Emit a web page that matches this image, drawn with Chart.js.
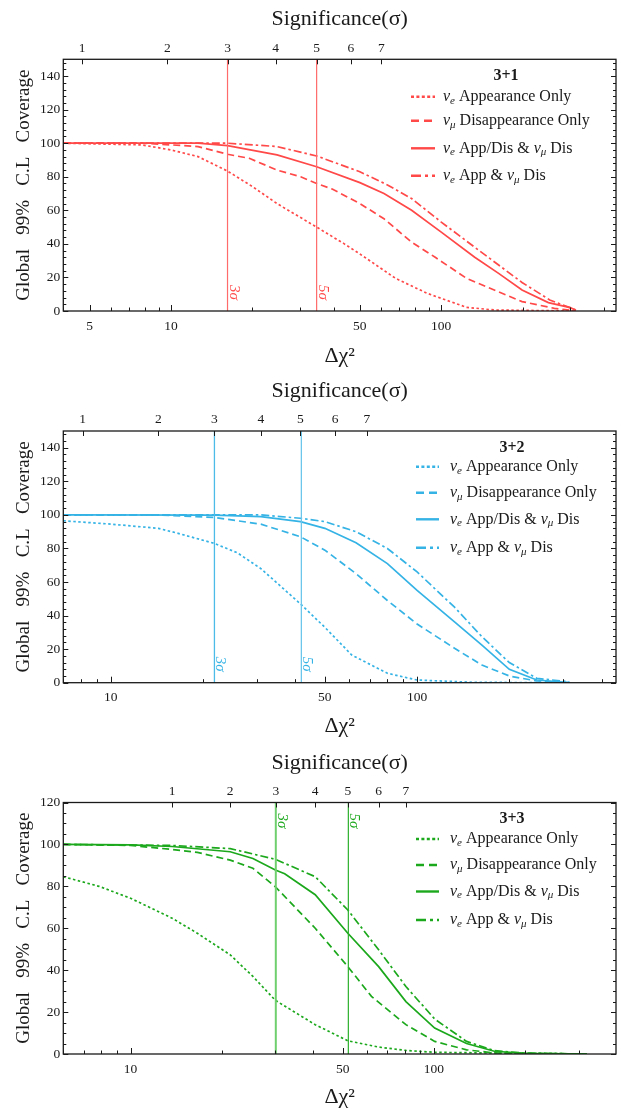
<!DOCTYPE html>
<html>
<head>
<meta charset="utf-8">
<script src="https://cdn.jsdelivr.net/npm/chart.js@4.4.1/dist/chart.umd.min.js"></script>
<style>
  body { margin: 0; background: #fff; }
  .panel { position: absolute; left: 0; width: 620px; }
  canvas { display: block; }
</style>
</head>
<body>
<div class="panel" style="top:0"><canvas id="c1" width="620" height="370"></canvas></div>
<div class="panel" style="top:370px"><canvas id="c2" width="620" height="370"></canvas></div>
<div class="panel" style="top:740px"><canvas id="c3" width="620" height="371"></canvas></div>
<script>
// Global 99% C.L coverage vs delta chi^2, for the 3+1, 3+2 and 3+3 models.
// Curve order everywhere: nu_e appearance only, nu_mu disappearance only,
// nu_e app/dis & nu_mu dis, nu_e app & nu_mu dis.

const sigmaLabels = [1, 2, 3, 4, 5, 6, 7];
const sigmaLineText = ['3σ', '5σ'];
const modelNames = ['3+1', '3+2', '3+3'];
const legendLabels = [
  [['ν', 'i'], ['e', 's'], [' Appearance Only', 'n']],
  [['ν', 'i'], ['μ', 's'], [' Disappearance Only', 'n']],
  [['ν', 'i'], ['e', 's'], [' App/Dis & ', 'n'], ['ν', 'i'], ['μ', 's'], [' Dis', 'n']],
  [['ν', 'i'], ['e', 's'], [' App & ', 'n'], ['ν', 'i'], ['μ', 's'], [' Dis', 'n']],
];

// ---- 3+1 ----
const p1Range = [4, 443];
const p1SigmaChi2 = [4.7, 9.7, 16.2, 24.4, 34.6, 46.3, 60];
const p1SigmaLines = [16.2, 34.6];
const p1XLabels = [5, 10, 50, 100];
const p1YTicks = [0, 20, 40, 60, 80, 100, 120, 140];
const p1AppX = [4, 7.8, 10, 12.6, 16.2, 20.1, 24.7, 34.6, 43.8, 50, 67.7, 88.8, 124, 157, 315];
const p1AppY = [100, 99, 96, 92, 83.4, 74, 64, 50, 40, 34, 19.5, 10.5, 2.2, 0.6, 0];
const p1DisX = [4, 7.8, 10, 12.6, 16.2, 19.5, 24.7, 30.2, 34.6, 39.5, 50, 61.4, 77.7, 95, 124, 157, 199, 262, 315];
const p1DisY = [100, 100, 99, 98, 93.4, 91, 84, 80, 76, 72.7, 64, 55, 41, 32, 19.5, 12.5, 5.6, 1.6, 0];
const p1AppDisX = [4, 12.6, 16.2, 24.7, 34.6, 50, 61.4, 77.7, 100, 133, 163, 199, 249, 300, 315];
const p1AppDisY = [100, 100, 98.5, 93, 86, 76.5, 70, 60, 47, 32, 22.4, 12.5, 5, 2, 0.5];
const p1AppAndDisX = [4, 16.2, 20.1, 24.7, 34.6, 50, 63.5, 77.7, 100, 133, 163, 199, 252, 315];
const p1AppAndDisY = [100, 100, 99, 98, 92.4, 83, 75, 67, 53, 38, 27.4, 17, 6.6, 0.6];

// ---- 3+2 ----
const p2Range = [7, 446];
const p2SigmaChi2 = [8.1, 14.3, 21.8, 30.9, 41.6, 54.0, 68.6];
const p2SigmaLines = [21.8, 41.9];
const p2XLabels = [10, 50, 100];
const p2YTicks = [0, 20, 40, 60, 80, 100, 120, 140];
const p2AppX = [7, 10, 14.3, 16.6, 21.8, 25.9, 30.9, 41.6, 50, 61.2, 80, 100, 154, 314];
const p2AppY = [96.5, 94.5, 92, 89, 83, 77.4, 68, 47, 33, 16.5, 5.6, 1.6, 0.2, 0];
const p2DisX = [7, 14.3, 21.8, 30.9, 41.6, 50, 63.2, 80, 100, 132.5, 162.8, 200, 246, 314];
const p2DisY = [100, 100, 98.5, 94.5, 87, 79, 65, 49, 35, 20.5, 10.5, 4, 1, 0];
const p2AppDisX = [7, 21.8, 30.9, 41.6, 50, 63.2, 80, 100, 132.5, 162.8, 200, 246, 314];
const p2AppDisY = [100, 99.9, 99, 96, 92, 83.4, 71, 55, 36.3, 22.4, 8, 1.6, 0];
const p2AppAndDisX = [7, 30.9, 41.6, 50, 63.2, 80, 100, 132.5, 162.8, 200, 246, 314];
const p2AppAndDisY = [100, 100, 98, 96, 90, 80, 66, 45, 27.4, 12, 2.6, 0.5];

// ---- 3+3 ----
const p3Range = [6, 398];
const p3SigmaChi2 = [13.7, 21.3, 30.1, 40.6, 52.0, 65.7, 80.8];
const p3SigmaLines = [30.1, 52.2];
const p3XLabels = [10, 50, 100];
const p3YTicks = [0, 20, 40, 60, 80, 100, 120];
const p3AppX = [6, 7.87, 10, 13.7, 16.6, 21.3, 25.3, 30, 40.6, 52, 65.7, 80.8, 100.5, 319];
const p3AppY = [84.6, 80, 74.3, 64.8, 57.6, 47.3, 37, 25.6, 14, 6.3, 3.3, 1.7, 0.8, 0];
const p3DisX = [6, 10, 13.7, 16.6, 21.3, 25.3, 30, 40.6, 52, 62.2, 80.8, 100.5, 128, 158, 319];
const p3DisY = [100, 99.5, 97.6, 96.2, 92.5, 88.6, 79.8, 60, 41.7, 27.5, 14, 6, 2, 0.5, 0];
const p3AppDisX = [6, 10, 13.7, 21.3, 25.3, 30, 32.2, 40.6, 52, 65.7, 80.8, 100.5, 128, 158, 200, 319];
const p3AppDisY = [100, 99.8, 99, 96.5, 93.3, 87.8, 86, 76, 57.6, 41.7, 25, 12.4, 5, 1.3, 0.3, 0];
const p3AppAndDisX = [6, 13.7, 21.3, 30, 40.6, 52, 65.7, 80.8, 100.5, 128, 158, 200, 319];
const p3AppAndDisY = [100, 99.5, 98, 92.9, 84.6, 68.7, 49.7, 32.2, 16.7, 6, 1.6, 0.4, 0];

const FONT = '"Liberation Serif", "DejaVu Serif", serif';
const INK = '#1a1a1a';
const DASHES = [[2.5, 2.5], [7, 4], [], [8, 3, 2.5, 3]];
const LEGEND_DASHES = [[3, 2.4], [8, 5], [], [10, 4, 3, 4]];

// all 1..9 x 10^n values inside the range (minor + major ticks)
function logTicks(min, max) {
  const out = [];
  for (let d = 1; d <= 1000; d *= 10) {
    for (let m = 1; m <= 9; m++) {
      const v = d * m;
      if (v >= min && v <= max) out.push(v);
    }
  }
  return out;
}

function drawParts(ctx, parts, x, y) {
  parts.forEach(([t, kind]) => {
    if (kind === 'i') ctx.font = 'italic 16px ' + FONT;
    else if (kind === 's') ctx.font = 'italic 11px ' + FONT;
    else ctx.font = '16px ' + FONT;
    ctx.fillText(t, x, kind === 's' ? y + 4 : y);
    x += ctx.measureText(t).width;
  });
}

function buildPanel(canvasId, p) {
  const datasets = [];
  p.sigmaLines.forEach((v, k) => {
    datasets.push({
      data: [{ x: v, y: 0 }, { x: v, y: p.yMax }],
      borderColor: p.lineColor[k], borderWidth: p.lineWidth[k], pointRadius: 0,
    });
  });
  p.curves.forEach((c, i) => {
    datasets.push({
      data: c[0].map((v, k) => ({ x: v, y: c[1][k] })),
      borderColor: p.color, borderWidth: 1.7, borderDash: DASHES[i],
      pointRadius: 0, tension: 0, fill: false,
    });
  });

  const decor = {
    id: 'decor' + canvasId,
    afterDraw(chart) {
      const ctx = chart.ctx, a = chart.chartArea;
      const xs = chart.scales.x, x2 = chart.scales.x2, ys = chart.scales.y;
      ctx.save();
      // frame + inward ticks
      ctx.strokeStyle = INK;
      ctx.lineWidth = 1.3;
      ctx.strokeRect(a.left, a.top, a.right - a.left, a.bottom - a.top);
      ctx.lineWidth = 1;
      ctx.beginPath();
      xs.ticks.forEach(t => {
        const px = Math.round(xs.getPixelForValue(t.value)) + 0.5;
        const len = p.xLabels.includes(t.value) ? 6 : 3.5;
        ctx.moveTo(px, a.bottom); ctx.lineTo(px, a.bottom - len);
      });
      x2.ticks.forEach(t => {
        const px = Math.round(x2.getPixelForValue(t.value)) + 0.5;
        ctx.moveTo(px, a.top); ctx.lineTo(px, a.top + 5);
      });
      for (let v = 0; v <= p.yMax; v += p.yMinor) {
        const py = Math.round(ys.getPixelForValue(v)) + 0.5;
        const len = p.yTicks.includes(v) ? 5 : 3;
        ctx.moveTo(a.left, py); ctx.lineTo(a.left + len, py);
        ctx.moveTo(a.right, py); ctx.lineTo(a.right - len, py);
      }
      ctx.stroke();

      // 3 sigma / 5 sigma labels, rotated along the lines
      ctx.fillStyle = p.color;
      ctx.font = 'italic 15px ' + FONT;
      ctx.textBaseline = 'alphabetic';
      ctx.textAlign = 'left';
      p.sigmaLines.forEach((v, k) => {
        const px = xs.getPixelForValue(v);
        const y0 = p.sigmaTextAt === 'top' ? a.top + 11 : a.bottom - 26;
        ctx.save();
        ctx.translate(px + 2, y0);
        ctx.rotate(Math.PI / 2);
        ctx.fillText(sigmaLineText[k], 0, 0);
        ctx.restore();
      });

      // legend
      ctx.fillStyle = INK;
      ctx.textBaseline = 'middle';
      ctx.textAlign = 'center';
      ctx.font = 'bold 16px ' + FONT;
      ctx.fillText(p.name, p.legend.titleX, a.top + 16.7);
      ctx.textAlign = 'left';
      p.legend.rows.forEach((dy, i) => {
        const y = a.top + dy;
        ctx.save();
        ctx.strokeStyle = p.color;
        ctx.lineWidth = 2.4;
        ctx.setLineDash(LEGEND_DASHES[i]);
        ctx.beginPath();
        ctx.moveTo(p.legend.sample[0], y);
        ctx.lineTo(p.legend.sample[1], y);
        ctx.stroke();
        ctx.restore();
        ctx.fillStyle = INK;
        drawParts(ctx, legendLabels[i], p.legend.textX, y);
      });
      ctx.restore();
    },
  };

  const tickFont = { family: FONT, size: 13.5 };
  return new Chart(document.getElementById(canvasId), {
    type: 'line',
    data: { datasets: datasets },
    options: {
      responsive: false,
      animation: false,
      devicePixelRatio: 1,
      layout: { padding: { left: 0, right: 4, top: 0, bottom: 0 } },
      plugins: { legend: { display: false }, tooltip: { enabled: false } },
      scales: {
        x: {
          type: 'logarithmic', position: 'bottom', min: p.range[0], max: p.range[1],
          afterBuildTicks: s => { s.ticks = logTicks(p.range[0], p.range[1]).map(v => ({ value: v })); },
          afterFit: s => { s.height = p.bottomH; },
          grid: { display: false, drawTicks: false }, border: { display: false },
          ticks: {
            autoSkip: false, maxRotation: 0, padding: 7, color: INK, font: tickFont,
            callback: v => (p.xLabels.includes(v) ? String(v) : ''),
          },
          title: { display: true, text: 'Δχ²', color: INK, font: { family: FONT, size: 22 }, padding: { top: 0, bottom: 1 } },
        },
        x2: {
          type: 'logarithmic', position: 'top', min: p.range[0], max: p.range[1],
          afterBuildTicks: s => { s.ticks = p.sigmaChi2.map(v => ({ value: v })); },
          afterFit: s => { s.height = p.topH; },
          grid: { display: false, drawTicks: false }, border: { display: false },
          ticks: {
            autoSkip: false, maxRotation: 0, padding: 3, color: INK, font: tickFont,
            callback: (v, i) => String(sigmaLabels[i]),
          },
          title: { display: true, text: 'Significance(σ)', color: INK, font: { family: FONT, size: 22 }, padding: { top: p.topTitlePad, bottom: 0 } },
        },
        y: {
          min: 0, max: p.yMax,
          afterBuildTicks: s => { s.ticks = p.yTicks.map(v => ({ value: v })); },
          afterFit: s => { s.width = 63.3; },
          grid: { display: false, drawTicks: false }, border: { display: false },
          ticks: { padding: 3, color: INK, font: tickFont },
          title: {
            display: true, text: 'Global   99%   C.L   Coverage', color: INK,
            font: { family: FONT, size: 19 }, padding: { top: 13, bottom: 0 },
          },
        },
      },
    },
    plugins: [decor],
  });
}

buildPanel('c1', {
  name: modelNames[0], color: '#ff4848', range: p1Range, yMax: 150, yTicks: p1YTicks, yMinor: 4,
  xLabels: p1XLabels, sigmaChi2: p1SigmaChi2, sigmaLines: p1SigmaLines,
  lineColor: ['#ff6a6a', '#ff6a6a'], lineWidth: [1.2, 1.2], sigmaTextAt: 'bottom',
  topH: 59.3, bottomH: 59, topTitlePad: 6,
  legend: { titleX: 506, sample: [411, 435], textX: 443, rows: [37.4, 61.4, 89, 116.4] },
  curves: [[p1AppX, p1AppY], [p1DisX, p1DisY], [p1AppDisX, p1AppDisY], [p1AppAndDisX, p1AppAndDisY]],
});

buildPanel('c2', {
  name: modelNames[1], color: '#35b3e5', range: p2Range, yMax: 150, yTicks: p2YTicks, yMinor: 4,
  xLabels: p2XLabels, sigmaChi2: p2SigmaChi2, sigmaLines: p2SigmaLines,
  lineColor: ['#4dbbe8', '#6cc6ec'], lineWidth: [1.3, 1.3], sigmaTextAt: 'bottom',
  topH: 61, bottomH: 57.3, topTitlePad: 8,
  legend: { titleX: 512, sample: [416, 439], textX: 450, rows: [35.7, 61.7, 88.3, 116.7] },
  curves: [[p2AppX, p2AppY], [p2DisX, p2DisY], [p2AppDisX, p2AppDisY], [p2AppAndDisX, p2AppAndDisY]],
});

buildPanel('c3', {
  name: modelNames[2], color: '#1ca81c', range: p3Range, yMax: 120, yTicks: p3YTicks, yMinor: 5,
  xLabels: p3XLabels, sigmaChi2: p3SigmaChi2, sigmaLines: p3SigmaLines,
  lineColor: ['#6fcf6f', '#2bb02b'], lineWidth: [2, 1.2], sigmaTextAt: 'top',
  topH: 62.5, bottomH: 57, topTitlePad: 10,
  legend: { titleX: 512, sample: [416, 439], textX: 450, rows: [36.5, 62.5, 89, 117.5] },
  curves: [[p3AppX, p3AppY], [p3DisX, p3DisY], [p3AppDisX, p3AppDisY], [p3AppAndDisX, p3AppAndDisY]],
});
</script>
</body>
</html>
